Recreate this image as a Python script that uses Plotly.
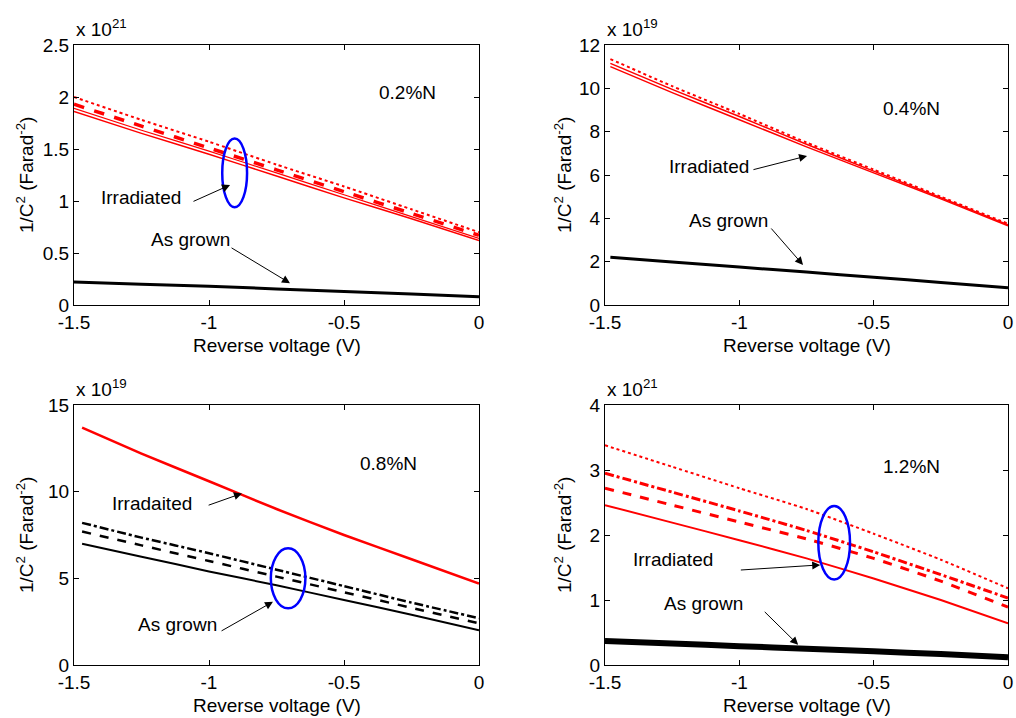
import plotly.graph_objects as go

# ---------------- data (y in units of the axis multiplier) ----------------
V_a = [-1.5, -1.25, -1.0, -0.75, -0.5, -0.25, 0.0]
V_b = [-1.48, -1.25, -1.0, -0.75, -0.5, -0.25, 0.0]
V_c = [-1.47, -1.25, -1.0, -0.75, -0.5, -0.25, 0.0]

# 0.2%N (x 1e21)
n02_irr_solid = [1.86, 1.65, 1.45, 1.24, 1.03, 0.83, 0.62]
n02_irr_solid2 = [1.89, 1.68, 1.48, 1.27, 1.06, 0.85, 0.64]
n02_irr_dash = [1.93, 1.72, 1.51, 1.30, 1.09, 0.88, 0.67]
n02_irr_dot = [2.00, 1.78, 1.57, 1.35, 1.14, 0.92, 0.70]
n02_grown = [0.22, 0.20, 0.18, 0.155, 0.13, 0.105, 0.08]

# 0.4%N (x 1e19)
n04_irr_solid = [11.0, 9.8, 8.55, 7.3, 6.1, 4.9, 3.65]
n04_irr_solid2 = [11.15, 9.95, 8.7, 7.42, 6.18, 4.95, 3.7]
n04_irr_dot = [11.35, 10.1, 8.82, 7.5, 6.25, 5.0, 3.75]
n04_grown = [2.2, 1.98, 1.75, 1.52, 1.28, 1.04, 0.8]

# 0.8%N (x 1e19)
n08_irr = [13.7, 12.2, 10.6, 9.0, 7.5, 6.1, 4.7]
n08_grown_solid = [7.0, 6.25, 5.4, 4.6, 3.75, 2.9, 2.0]
n08_grown_dash = [7.7, 6.9, 6.0, 5.1, 4.2, 3.3, 2.4]
n08_grown_dashdot = [8.2, 7.35, 6.45, 5.5, 4.55, 3.6, 2.7]

# 1.2%N (x 1e21)
n12_irr_solid = [2.46, 2.19, 1.92, 1.64, 1.33, 1.00, 0.64]
n12_irr_dash = [2.72, 2.46, 2.20, 1.94, 1.64, 1.29, 0.89]
n12_irr_dashdot = [2.95, 2.66, 2.37, 2.07, 1.74, 1.39, 1.03]
n12_irr_dot = [3.38, 3.05, 2.72, 2.40, 2.02, 1.62, 1.18]
n12_grown = [0.37, 0.33, 0.29, 0.25, 0.21, 0.17, 0.12]

x_ticks = [-1.5, -1.0, -0.5, 0.0]
x_ticktext = ["-1.5", "-1", "-0.5", "0"]
labels = ["0.2%N", "0.4%N", "0.8%N", "1.2%N"]
exponents = ["21", "19", "19", "21"]
y_ranges = [[0, 2.5], [0, 12], [0, 15], [0, 4]]
y_ticks = [[0, 0.5, 1, 1.5, 2, 2.5], [0, 2, 4, 6, 8, 10, 12], [0, 5, 10, 15], [0, 1, 2, 3, 4]]
y_ticktext = [["0", "0.5", "1", "1.5", "2", "2.5"], ["0", "2", "4", "6", "8", "10", "12"],
              ["0", "5", "10", "15"], ["0", "1", "2", "3", "4"]]

RED = "#FF0000"
BLACK = "#000000"
BLUE = "#0000FF"
FONT = "Arial, 'Liberation Sans', sans-serif"
FS = 19

W, H = 1016, 718
# pixel boxes of plot areas (left, right, top, bottom)
boxes = [(74, 479, 45, 305), (605, 1008, 45, 305), (74, 479, 405, 665), (605, 1008, 405, 665)]

def px(x):
    return x / W

def py(y):
    return 1 - y / H

fig = go.Figure()

def add(panel, x, y, color, dash="solid", width=1.5):
    sfx = "" if panel == 1 else str(panel)
    fig.add_trace(go.Scatter(x=x, y=y, mode="lines",
                             line=dict(color=color, dash=dash, width=width, shape="spline", smoothing=0.5),
                             xaxis="x" + sfx, yaxis="y" + sfx, showlegend=False, hoverinfo="skip"))

add(1, V_a, n02_irr_solid, RED, "solid", 1.5)
add(1, V_a, n02_irr_solid2, RED, "solid", 1.2)
add(1, V_a, n02_irr_dash, RED, "dash", 3.5)
add(1, V_a, n02_irr_dot, RED, "dot", 2)
add(1, V_a, n02_grown, BLACK, "solid", 3)

add(2, V_b, n04_irr_solid, RED, "solid", 1.5)
add(2, V_b, n04_irr_solid2, RED, "solid", 1.5)
add(2, V_b, n04_irr_dot, RED, "dot", 2)
add(2, V_b, n04_grown, BLACK, "solid", 3)

add(3, V_c, n08_irr, RED, "solid", 2.5)
add(3, V_c, n08_grown_solid, BLACK, "solid", 2)
add(3, V_c, n08_grown_dash, BLACK, "dash", 2.5)
add(3, V_c, n08_grown_dashdot, BLACK, "dashdot", 2.5)

add(4, V_a, n12_irr_solid, RED, "solid", 2)
add(4, V_a, n12_irr_dash, RED, "dash", 3)
add(4, V_a, n12_irr_dashdot, RED, "dashdot", 3)
add(4, V_a, n12_irr_dot, RED, "dot", 2)
add(4, V_a, n12_grown, BLACK, "solid", 6)

layout = dict(width=W, height=H, margin=dict(l=0, r=0, t=0, b=0, autoexpand=False),
              paper_bgcolor="white", plot_bgcolor="white",
              font=dict(family=FONT, size=FS, color=BLACK))

annotations = []
shapes = []
for i, (x0, x1, y0, y1) in enumerate(boxes):
    sfx = "" if i == 0 else str(i + 1)
    xdom = [px(x0), px(x1)]
    ydom = [py(y1), py(y0)]
    axcommon = dict(showline=True, mirror="ticks", linecolor=BLACK, linewidth=1, ticks="inside",
                    ticklen=5, tickcolor=BLACK, showgrid=False, zeroline=False, automargin=False,
                    tickfont=dict(family=FONT, size=FS, color=BLACK))
    layout["xaxis" + sfx] = dict(domain=xdom, range=[-1.5, 0], tickvals=x_ticks, ticktext=x_ticktext,
                                 anchor="y" + sfx, **axcommon)
    layout["yaxis" + sfx] = dict(domain=ydom, range=y_ranges[i], tickvals=y_ticks[i],
                                 ticktext=y_ticktext[i], anchor="x" + sfx, **axcommon)
    # axis titles
    annotations.append(dict(text="Reverse voltage (V)", xref="paper", yref="paper",
                            x=px((x0 + x1) / 2), y=py(y1 + 40), showarrow=False,
                            xanchor="center", yanchor="middle", font=dict(size=FS)))
    ytx = 25 if i in (0, 2) else 563
    annotations.append(dict(text="1/C<sup>2</sup> (Farad<sup>-2</sup>)", xref="paper", yref="paper",
                            x=px(ytx), y=py((y0 + y1) / 2), showarrow=False, textangle=-90,
                            xanchor="center", yanchor="middle", font=dict(size=FS)))
    annotations.append(dict(text="x 10<sup>" + exponents[i] + "</sup>", xref="paper", yref="paper",
                            x=px(x0), y=py(y0 - 3), showarrow=False, xanchor="left",
                            yanchor="bottom", font=dict(size=FS)))

# panel texts and arrows (data coordinates)
def txt(panel, s, x, y):
    sfx = "" if panel == 1 else str(panel)
    annotations.append(dict(text=s, xref="x" + sfx, yref="y" + sfx, x=x, y=y, showarrow=False,
                            xanchor="center", yanchor="middle", font=dict(size=FS)))

def arrow(panel, tx, ty, hx, hy):
    sfx = "" if panel == 1 else str(panel)
    annotations.append(dict(text="", xref="x" + sfx, yref="y" + sfx, axref="x" + sfx, ayref="y" + sfx,
                            x=hx, y=hy, ax=tx, ay=ty, showarrow=True, arrowhead=2, arrowsize=1.6,
                            arrowwidth=1, arrowcolor=BLACK))

def ellipse(panel, cx, cy, rx, ry):
    sfx = "" if panel == 1 else str(panel)
    shapes.append(dict(type="circle", xref="x" + sfx, yref="y" + sfx, x0=cx - rx, x1=cx + rx,
                       y0=cy - ry, y1=cy + ry, line=dict(color=BLUE, width=2.5)))

txt(1, labels[0], -0.263, 2.04)
txt(1, "Irradiated", -1.252, 1.03)
arrow(1, -1.063, 0.99, -0.922, 1.154)
txt(1, "As grown", -1.067, 0.625)
arrow(1, -0.922, 0.558, -0.70, 0.21)
ellipse(1, -0.905, 1.27, 0.046, 0.33)

txt(2, labels[1], -0.361, 9.09)
txt(2, "Irradiated", -1.113, 6.37)
arrow(2, -0.953, 6.23, -0.748, 6.88)
txt(2, "As grown", -1.039, 3.92)
arrow(2, -0.886, 3.6, -0.763, 1.85)

txt(3, labels[2], -0.337, 11.6)
txt(3, "Irradaited", -1.211, 9.29)
arrow(3, -1.007, 9.19, -0.878, 9.9)
txt(3, "As grown", -1.115, 2.31)
arrow(3, -0.959, 1.92, -0.763, 3.65)
ellipse(3, -0.707, 5.0, 0.064, 1.73)

txt(4, labels[3], -0.361, 3.05)
txt(4, "Irradiated", -1.247, 1.63)
arrow(4, -1.0, 1.46, -0.699, 1.54)
txt(4, "As grown", -1.135, 0.94)
arrow(4, -0.911, 0.84, -0.781, 0.31)
ellipse(4, -0.647, 1.88, 0.059, 0.565)

layout["annotations"] = annotations
layout["shapes"] = shapes
fig.update_layout(**layout)
# remove the page's default 8px body margin so the figure fills the window
fig.write_html("out.html", config={"displayModeBar": False},
               post_script="document.body.style.margin='0';document.body.style.overflow='hidden';")
